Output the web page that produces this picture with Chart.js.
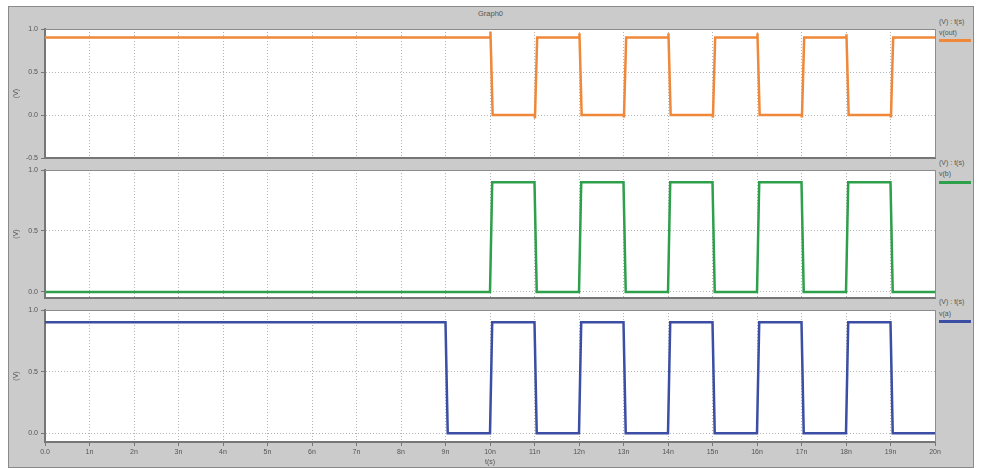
<!DOCTYPE html>
<html>
<head>
<meta charset="utf-8">
<script src="https://cdn.jsdelivr.net/npm/chart.js@4/dist/chart.umd.min.js"></script>
<style>
  html, body { margin: 0; padding: 0; background: #fff; }
  body { width: 981px; height: 468px; position: relative; overflow: hidden; font-family: "Liberation Sans", Arial, sans-serif; }
  #frame { position: absolute; left: 8px; top: 6px; width: 964px; height: 460px; background: #cbcbcb; border: 1px solid #8a8a8a; }
  .cv { position: absolute; left: 0; }
  .txt { position: absolute; font-size: 7px; color: #555; white-space: nowrap; }
  .sw { position: absolute; left: 939px; width: 32px; height: 3px; }
</style>
</head>
<body>
<div id="frame"></div>
<div class="txt" style="left:478px;top:9px;font-size:7.5px;">Graph0</div>

<div class="txt" style="left:939px;top:18px;">(V) : t(s)</div>
<div class="txt" style="left:939px;top:29px;">v(out)</div>
<div class="sw" style="top:39px;background:#f0883a;"></div>

<div class="txt" style="left:939px;top:159px;">(V) : t(s)</div>
<div class="txt" style="left:939px;top:170px;">v(b)</div>
<div class="sw" style="top:181px;background:#2e9f4b;"></div>

<div class="txt" style="left:939px;top:298px;">(V) : t(s)</div>
<div class="txt" style="left:939px;top:310px;">v(a)</div>
<div class="sw" style="top:320px;background:#3b4ea3;"></div>

<canvas id="c1" class="cv" style="top:20px;"></canvas>
<canvas id="c2" class="cv" style="top:160px;"></canvas>
<canvas id="c3" class="cv" style="top:300px;"></canvas>

<script>
// time axis tick labels (ns)
const xTickLabels = ['0.0','1n','2n','3n','4n','5n','6n','7n','8n','9n','10n',
  '11n','12n','13n','14n','15n','16n','17n','18n','19n','20n'];

// v(out): times in ns, volts
const outT = [0, 10, 10.01, 10.06, 11, 11.01, 11.06, 12, 12.01, 12.06, 13, 13.01, 13.06,
  14, 14.01, 14.06, 15, 15.01, 15.06, 16, 16.01, 16.06, 17, 17.01, 17.06,
  18, 18.01, 18.06, 19, 19.01, 19.06, 20];
const outV = [0.9, 0.9, 0.97, 0, 0, -0.04, 0.9, 0.9, 0.95, 0, 0, -0.03, 0.9,
  0.9, 0.95, 0, 0, -0.03, 0.9, 0.9, 0.95, 0, 0, -0.03, 0.9,
  0.9, 0.94, 0, 0, -0.03, 0.9, 0.9];

// v(b)
const bT = [0, 10, 10.05, 11, 11.05, 12, 12.05, 13, 13.05, 14, 14.05, 15, 15.05,
  16, 16.05, 17, 17.05, 18, 18.05, 19, 19.05, 20];
const bV = [0, 0, 0.9, 0.9, 0, 0, 0.9, 0.9, 0, 0, 0.9, 0.9, 0,
  0, 0.9, 0.9, 0, 0, 0.9, 0.9, 0, 0];

// v(a)
const aT = [0, 9, 9.05, 10, 10.05, 11, 11.05, 12, 12.05, 13, 13.05, 14, 14.05,
  15, 15.05, 16, 16.05, 17, 17.05, 18, 18.05, 19, 19.05, 20];
const aV = [0.9, 0.9, 0, 0, 0.9, 0.9, 0, 0, 0.9, 0.9, 0, 0, 0.9,
  0.9, 0, 0, 0.9, 0.9, 0, 0, 0.9, 0.9, 0, 0];

const yTicksOut = [-0.5, 0, 0.5, 1.0];
const yTicksIn = [0, 0.5, 1.0];

const FONT = { family: 'Liberation Sans, Arial, sans-serif', size: 7 };
const GRID = '#b4b4b4';
const AXIS = '#767676';

const plotFrame = {
  id: 'plotFrame',
  beforeDraw(chart) {
    const a = chart.chartArea, ctx = chart.ctx;
    ctx.save();
    ctx.fillStyle = '#fff';
    ctx.fillRect(a.left, a.top, a.right - a.left, a.bottom - a.top);
    ctx.restore();
  },
  afterDraw(chart) {
    const a = chart.chartArea, ctx = chart.ctx;
    ctx.save();
    ctx.strokeStyle = '#8c8c8c';
    ctx.lineWidth = 1;
    ctx.beginPath();
    ctx.moveTo(a.left, a.top + 0.5);
    ctx.lineTo(a.right + 0.5, a.top + 0.5);
    ctx.lineTo(a.right + 0.5, a.bottom);
    ctx.stroke();
    ctx.restore();
  }
};

function makeChart(id, height, padTop, xHeight, times, volts, color, yMin, yMax, yTicks, showX) {
  const el = document.getElementById(id);
  el.width = 981; el.height = height;
  el.style.width = '981px'; el.style.height = height + 'px';
  const pts = times.map((t, i) => ({ x: t, y: volts[i] }));
  return new Chart(el.getContext('2d'), {
    type: 'line',
    data: { datasets: [{ data: pts, borderColor: color, borderWidth: 2.5, pointRadius: 0, tension: 0, fill: false }] },
    options: {
      responsive: false,
      animation: false,
      events: [],
      layout: { padding: { left: 0, right: 46, top: padTop, bottom: 0 } },
      plugins: { legend: { display: false }, tooltip: { enabled: false } },
      scales: {
        x: {
          type: 'linear', min: 0, max: 20,
          afterFit(s) { s.height = xHeight; },
          ticks: { display: showX, stepSize: 1, font: FONT, color: '#555', padding: 2, maxRotation: 0,
            callback: (v) => xTickLabels[Math.round(v)] },
          grid: { color: GRID, drawTicks: showX, tickLength: 4, tickColor: AXIS, tickBorderDash: [] },
          border: { display: true, color: AXIS, width: 2, dash: [1, 2] },
          title: { display: showX, text: 't(s)', font: FONT, color: '#555', padding: { top: 0, bottom: 0 } }
        },
        y: {
          type: 'linear', min: yMin, max: yMax,
          afterFit(s) { s.width = 45; },
          afterBuildTicks(s) { s.ticks = yTicks.map(v => ({ value: v })); },
          ticks: { font: FONT, color: '#555', padding: 3, callback: (v) => v.toFixed(1) },
          grid: { color: GRID, drawTicks: true, tickLength: 4, tickColor: AXIS, tickBorderDash: [] },
          border: { display: true, color: AXIS, width: 2, dash: [1, 2] },
          title: { display: true, text: '(V)', font: FONT, color: '#555', padding: { top: 12, bottom: 0 } }
        }
      }
    },
    plugins: [plotFrame]
  });
}

makeChart('c1', 150, 9, 12, outT, outV, '#f0883a', -0.5, 1.0, yTicksOut, false);
makeChart('c2', 150, 10, 12, bT, bV, '#2e9f4b', -0.05, 1.0, yTicksIn, false);
makeChart('c3', 166, 10, 24, aT, aV, '#3b4ea3', -0.07, 1.0, yTicksIn, true);
</script>
</body>
</html>
